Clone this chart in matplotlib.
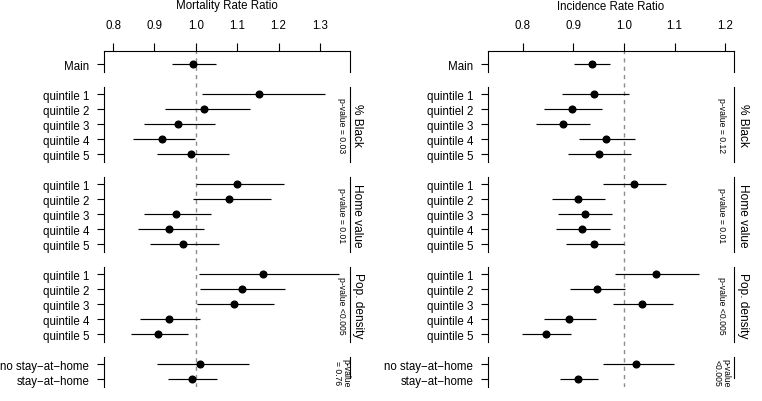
import matplotlib
matplotlib.use("Agg")
import matplotlib.pyplot as plt
import matplotlib.transforms as mtransforms

plt.rcParams['font.family'] = ['Liberation Sans', 'DejaVu Sans']

# ---- data ----
groups = ["Main", "% Black", "Home value", "Pop. density", "Stay-at-home"]
group_sizes = [1, 5, 5, 5, 2]
quint = ["quintile 1", "quintile 2", "quintile 3", "quintile 4", "quintile 5"]
stay = ["no stay\u2212at\u2212home", "stay\u2212at\u2212home"]

mort_labels = ["Main"] + quint * 3 + stay
mort_est = [0.994,
            1.152, 1.020, 0.958, 0.918, 0.989,
            1.099, 1.080, 0.953, 0.936, 0.970,
            1.163, 1.111, 1.092, 0.935, 0.909,
            1.010, 0.990]
mort_lo = [0.943,
           1.016, 0.925, 0.874, 0.848, 0.906,
           1.000, 0.994, 0.874, 0.861, 0.890,
           1.008, 1.010, 1.003, 0.864, 0.843,
           0.906, 0.934]
mort_hi = [1.048,
           1.311, 1.131, 1.047, 0.997, 1.080,
           1.212, 1.181, 1.037, 1.019, 1.056,
           1.346, 1.216, 1.188, 1.011, 0.980,
           1.128, 1.050]
mort_p = ["", "p-value = 0.03", "p-value = 0.01", "p-value <0.005", "p-value\n= 0.76"]

inc_labels = (["Main", "quintile 1", "quintiel 2", "quintile 3", "quintile 4", "quintile 5"]
              + quint * 2 + stay)
inc_est = [0.936,
           0.941, 0.897, 0.879, 0.964, 0.950,
           1.020, 0.909, 0.923, 0.917, 0.941,
           1.063, 0.947, 1.036, 0.892, 0.845,
           1.024, 0.910]
inc_lo = [0.902,
          0.877, 0.842, 0.826, 0.911, 0.890,
          0.959, 0.858, 0.870, 0.866, 0.885,
          0.982, 0.894, 0.978, 0.843, 0.798,
          0.959, 0.874]
inc_hi = [0.972,
          1.010, 0.957, 0.933, 1.021, 1.013,
          1.083, 0.962, 0.977, 0.972, 1.001,
          1.148, 1.002, 1.096, 0.945, 0.895,
          1.098, 0.949]
inc_p = ["", "p-value = 0.12", "p-value = 0.01", "p-value <0.005", "p-value\n<0.005"]

mort_ticks = [0.8, 0.9, 1.0, 1.1, 1.2, 1.3]
inc_ticks = [0.8, 0.9, 1.0, 1.1, 1.2]

FS = 8.3
W, H = 762, 402
TOP_ROW, BOT_ROW = -0.87, 21.5


def panel(ax, title, labels, est, lo, hi, pvals, xlim, xticks, pv_dx, strip_dx):
    rows, spans, r = [], [], 0
    for n in group_sizes:
        spans.append((r, r + n - 1))
        rows += list(range(r, r + n))
        r += n + 1
    ax.set_xlim(xlim)
    ax.set_ylim(BOT_ROW, TOP_ROW)
    ax.axvline(1.0, color="0.55", ls=(0, (3, 3)), lw=1.0, zorder=1)
    ax.hlines(rows, lo, hi, color="k", lw=0.85, zorder=2)
    ax.plot(est, rows, "o", color="k", ms=4.8, zorder=3)

    for s in ("left", "right", "bottom"):
        ax.spines[s].set_visible(False)
    ax.spines["top"].set_linewidth(0.8)
    ax.xaxis.tick_top()
    ax.set_xticks(xticks)
    ax.set_xticklabels([f"{t:.1f}" for t in xticks])
    ax.set_yticks(rows)
    ax.set_yticklabels(labels)
    ax.tick_params(axis="x", length=5.8, width=0.8, pad=8.5, labelsize=FS)
    ax.tick_params(axis="y", length=5, width=0.8, pad=5.5, labelsize=FS)

    tr = mtransforms.blended_transform_factory(ax.transAxes, ax.transData)
    for g, (a, b) in enumerate(spans):
        y0 = TOP_ROW if g == 0 else a - 0.5
        y1 = b + 0.5
        ax.plot([0, 0], [y0, y1], color="k", lw=0.8, transform=tr, clip_on=False)
        y1r = y1 - 0.6 if g == len(spans) - 1 else y1
        ax.plot([1, 1], [y0, y1r], color="k", lw=0.8, transform=tr, clip_on=False)
        yc = (a + b) / 2
        if pvals[g]:
            ax.annotate(pvals[g], xy=(1, yc), xycoords=tr, xytext=(pv_dx, 0),
                        textcoords="offset pixels", rotation=270, ha="center",
                        va="center", multialignment="center", fontsize=6.2,
                        linespacing=0.95)
        if 0 < g < len(spans) - 1:
            ax.annotate(groups[g], xy=(1, yc), xycoords=tr, xytext=(strip_dx, 0),
                        textcoords="offset pixels", rotation=270, ha="center",
                        va="center", fontsize=FS + 0.3)
    pos = ax.get_position()
    ax.figure.text(pos.x0 + pos.width / 2, 1 - 9.5 / H, title, ha="center",
                   va="baseline", fontsize=FS)


fig = plt.figure(figsize=(W / 100, H / 100), dpi=100)
ytop, ybot = 1 - 52.3 / H, 1 - 388 / H
ax1 = fig.add_axes([103.7 / W, ybot, (350 - 103.7) / W, ytop - ybot])
ax2 = fig.add_axes([487.7 / W, ybot, (734.3 - 487.7) / W, ytop - ybot])

panel(ax1, "Mortality Rate Ratio", mort_labels, mort_est, mort_lo, mort_hi, mort_p,
      (0.7775, 1.3725), mort_ticks, -8.3, 7.5)
panel(ax2, "Incidence Rate Ratio", inc_labels, inc_est, inc_lo, inc_hi, inc_p,
      (0.7308, 1.218), inc_ticks, -12.6, 9.0)

fig.savefig("out.png", dpi=100)
